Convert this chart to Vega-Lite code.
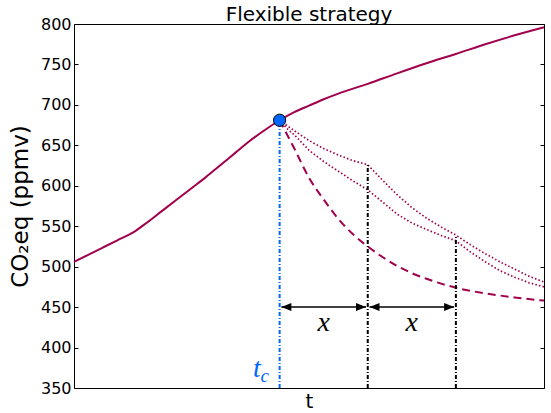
{
  "$schema": "https://vega.github.io/schema/vega-lite/v6.json",
  "width": 470,
  "height": 364,
  "autosize": "none",
  "padding": {"left": 74, "top": 24, "right": 7, "bottom": 25},
  "config": {
    "view": {"stroke": "#000000", "strokeWidth": 1},
    "font": "DejaVu Sans",
    "axis": {"grid": false}
  },
  "title": {
    "text": "Flexible strategy",
    "font": "DejaVu Sans",
    "fontSize": 20,
    "fontWeight": "normal",
    "color": "#000000",
    "offset": -9
  },
  "datasets": {
    "baseline": [
      {"t": 0, "v": 506}, {"t": 5, "v": 515}, {"t": 10, "v": 524}, {"t": 15, "v": 533},
      {"t": 20, "v": 542}, {"t": 25, "v": 555}, {"t": 30, "v": 569}, {"t": 35, "v": 583},
      {"t": 40, "v": 597}, {"t": 45, "v": 611}, {"t": 50, "v": 626}, {"t": 55, "v": 641},
      {"t": 60, "v": 656}, {"t": 65, "v": 669}, {"t": 70, "v": 681}, {"t": 75, "v": 691},
      {"t": 80, "v": 699}, {"t": 85, "v": 707}, {"t": 90, "v": 714}, {"t": 100, "v": 726},
      {"t": 110, "v": 739}, {"t": 120, "v": 751.5}, {"t": 130, "v": 763}, {"t": 140, "v": 775},
      {"t": 150, "v": 786}, {"t": 160, "v": 796}
    ],
    "immediate": [
      {"t": 70, "v": 681}, {"t": 75, "v": 646}, {"t": 80, "v": 610}, {"t": 85, "v": 583},
      {"t": 90, "v": 559}, {"t": 95, "v": 540}, {"t": 100, "v": 525}, {"t": 105, "v": 512},
      {"t": 110, "v": 501}, {"t": 115, "v": 492}, {"t": 120, "v": 485}, {"t": 125, "v": 479},
      {"t": 130, "v": 474}, {"t": 140, "v": 467}, {"t": 150, "v": 462}, {"t": 160, "v": 458}
    ],
    "delayed": [
      {"path": "slow", "t": 70, "v": 681}, {"path": "slow", "t": 75, "v": 668}, {"path": "slow", "t": 80, "v": 656},
      {"path": "slow", "t": 85, "v": 646}, {"path": "slow", "t": 90, "v": 638}, {"path": "slow", "t": 95, "v": 631},
      {"path": "slow", "t": 100, "v": 626}, {"path": "slow", "t": 105, "v": 607}, {"path": "slow", "t": 110, "v": 589},
      {"path": "slow", "t": 115, "v": 573}, {"path": "slow", "t": 120, "v": 560}, {"path": "slow", "t": 125, "v": 549},
      {"path": "slow", "t": 130, "v": 539}, {"path": "slow", "t": 135, "v": 527}, {"path": "slow", "t": 140, "v": 516},
      {"path": "slow", "t": 145, "v": 506}, {"path": "slow", "t": 150, "v": 497}, {"path": "slow", "t": 155, "v": 488},
      {"path": "slow", "t": 160, "v": 481},
      {"path": "mid", "t": 70, "v": 681}, {"path": "mid", "t": 73, "v": 669}, {"path": "mid", "t": 75, "v": 663},
      {"path": "mid", "t": 80, "v": 644}, {"path": "mid", "t": 85, "v": 630}, {"path": "mid", "t": 90, "v": 618},
      {"path": "mid", "t": 95, "v": 606}, {"path": "mid", "t": 100, "v": 595}, {"path": "mid", "t": 105, "v": 580},
      {"path": "mid", "t": 110, "v": 565}, {"path": "mid", "t": 115, "v": 554}, {"path": "mid", "t": 120, "v": 546},
      {"path": "mid", "t": 125, "v": 538.5}, {"path": "mid", "t": 130, "v": 532}, {"path": "mid", "t": 135, "v": 518},
      {"path": "mid", "t": 140, "v": 506}, {"path": "mid", "t": 145, "v": 495}, {"path": "mid", "t": 150, "v": 487},
      {"path": "mid", "t": 155, "v": 480}, {"path": "mid", "t": 160, "v": 475}
    ],
    "decision": [{"t": 70, "lo": 350, "hi": 681}],
    "revisions": [{"t": 100, "lo": 350, "hi": 626}, {"t": 130, "lo": 350, "hi": 539}],
    "spans": [{"a": 70.6, "b": 99.4, "v": 450}, {"a": 100.6, "b": 129.4, "v": 450}],
    "heads_left": [{"t": 70.6, "v": 450}, {"t": 100.6, "v": 450}],
    "heads_right": [{"t": 99.4, "v": 450}, {"t": 129.4, "v": 450}],
    "spanLabels": [{"t": 85, "v": 421, "label": "x"}, {"t": 115, "v": 421, "label": "x"}],
    "tc": [{"t": 70, "v": 681}]
  },
  "resolve": {"axis": {"y": "independent"}},
  "layer": [
    {
      "data": {"name": "baseline"},
      "mark": {"type": "line", "color": "#a0004c", "strokeWidth": 2, "interpolate": "monotone"},
      "encoding": {
        "x": {
          "field": "t", "type": "quantitative",
          "scale": {"domain": [0, 160], "nice": false, "zero": false},
          "axis": {
            "title": "t", "labels": false, "ticks": false, "domain": false,
            "titleFont": "DejaVu Sans", "titleFontSize": 20, "titleFontWeight": "normal",
            "titleColor": "#000000", "titlePadding": 3
          }
        },
        "y": {
          "field": "v", "type": "quantitative",
          "scale": {"domain": [350, 800], "nice": false, "zero": false},
          "axis": {
            "orient": "left",
            "values": [350, 400, 450, 500, 550, 600, 650, 700, 750, 800],
            "domain": false, "tickSize": -4, "tickColor": "#000000", "tickWidth": 1,
            "labelFont": "DejaVu Sans", "labelFontSize": 16, "labelColor": "#000000",
            "labelPadding": 7, "labelOverlap": false, "labelFlush": false,
            "title": "CO₂eq (ppmv)", "titleFont": "DejaVu Sans", "titleFontSize": 23,
            "titleFontWeight": "normal", "titleColor": "#000000",
            "titleAngle": -90, "titleX": -47, "titleY": 182,
            "titleAlign": "center", "titleBaseline": "alphabetic"
          }
        }
      }
    },
    {
      "data": {"name": "immediate"},
      "mark": {"type": "line", "color": "#a0004c", "strokeWidth": 2, "strokeDash": [8, 5], "interpolate": "monotone"},
      "encoding": {
        "x": {"field": "t", "type": "quantitative"},
        "y": {
          "field": "v", "type": "quantitative",
          "axis": {
            "orient": "right",
            "values": [350, 400, 450, 500, 550, 600, 650, 700, 750, 800],
            "domain": false, "labels": false, "tickSize": -4, "tickColor": "#000000",
            "tickWidth": 1, "title": null
          }
        }
      }
    },
    {
      "data": {"name": "delayed"},
      "mark": {"type": "line", "color": "#a0004c", "strokeWidth": 1.7, "strokeDash": [1.5, 2.2]},
      "encoding": {
        "x": {"field": "t", "type": "quantitative"},
        "y": {"field": "v", "type": "quantitative", "axis": null},
        "detail": {"field": "path"}
      }
    },
    {
      "data": {"name": "decision"},
      "mark": {"type": "rule", "color": "#0066ff", "strokeWidth": 2, "strokeDash": [4, 2, 1, 2]},
      "encoding": {
        "x": {"field": "t", "type": "quantitative"},
        "y": {"field": "lo", "type": "quantitative", "axis": null},
        "y2": {"field": "hi"}
      }
    },
    {
      "data": {"name": "revisions"},
      "mark": {"type": "rule", "color": "#000000", "strokeWidth": 2, "strokeDash": [4, 2, 1, 2]},
      "encoding": {
        "x": {"field": "t", "type": "quantitative"},
        "y": {"field": "lo", "type": "quantitative", "axis": null},
        "y2": {"field": "hi"}
      }
    },
    {
      "data": {"name": "spans"},
      "mark": {"type": "rule", "color": "#000000", "strokeWidth": 1.5},
      "encoding": {
        "x": {"field": "a", "type": "quantitative"},
        "x2": {"field": "b"},
        "y": {"field": "v", "type": "quantitative", "axis": null}
      }
    },
    {
      "data": {"name": "heads_left"},
      "mark": {"type": "point", "shape": "M0,0L2,-0.8L2,0.8Z", "size": 100, "filled": true, "color": "#000000", "opacity": 1},
      "encoding": {
        "x": {"field": "t", "type": "quantitative"},
        "y": {"field": "v", "type": "quantitative", "axis": null}
      }
    },
    {
      "data": {"name": "heads_right"},
      "mark": {"type": "point", "shape": "M0,0L-2,-0.8L-2,0.8Z", "size": 100, "filled": true, "color": "#000000", "opacity": 1},
      "encoding": {
        "x": {"field": "t", "type": "quantitative"},
        "y": {"field": "v", "type": "quantitative", "axis": null}
      }
    },
    {
      "data": {"name": "spanLabels"},
      "mark": {"type": "text", "font": "Liberation Serif", "fontStyle": "italic", "fontSize": 28, "color": "#000000", "align": "center", "baseline": "alphabetic"},
      "encoding": {
        "x": {"field": "t", "type": "quantitative"},
        "y": {"field": "v", "type": "quantitative", "axis": null},
        "text": {"field": "label"}
      }
    },
    {
      "data": {"values": [{"t": 62.3, "v": 364, "label": "t"}]},
      "mark": {"type": "text", "font": "Liberation Serif", "fontStyle": "italic", "fontSize": 28, "color": "#0066ff", "align": "center", "baseline": "alphabetic"},
      "encoding": {
        "x": {"field": "t", "type": "quantitative"},
        "y": {"field": "v", "type": "quantitative", "axis": null},
        "text": {"field": "label"}
      }
    },
    {
      "data": {"values": [{"t": 64.9, "v": 357.8, "label": "c"}]},
      "mark": {"type": "text", "font": "Liberation Serif", "fontStyle": "italic", "fontSize": 19, "color": "#0066ff", "align": "center", "baseline": "alphabetic"},
      "encoding": {
        "x": {"field": "t", "type": "quantitative"},
        "y": {"field": "v", "type": "quantitative", "axis": null},
        "text": {"field": "label"}
      }
    },
    {
      "data": {"name": "tc"},
      "mark": {"type": "point", "shape": "circle", "size": 150, "filled": true, "fill": "#0066ff", "stroke": "#000000", "strokeWidth": 1, "opacity": 1},
      "encoding": {
        "x": {"field": "t", "type": "quantitative"},
        "y": {"field": "v", "type": "quantitative", "axis": null}
      }
    }
  ]
}
